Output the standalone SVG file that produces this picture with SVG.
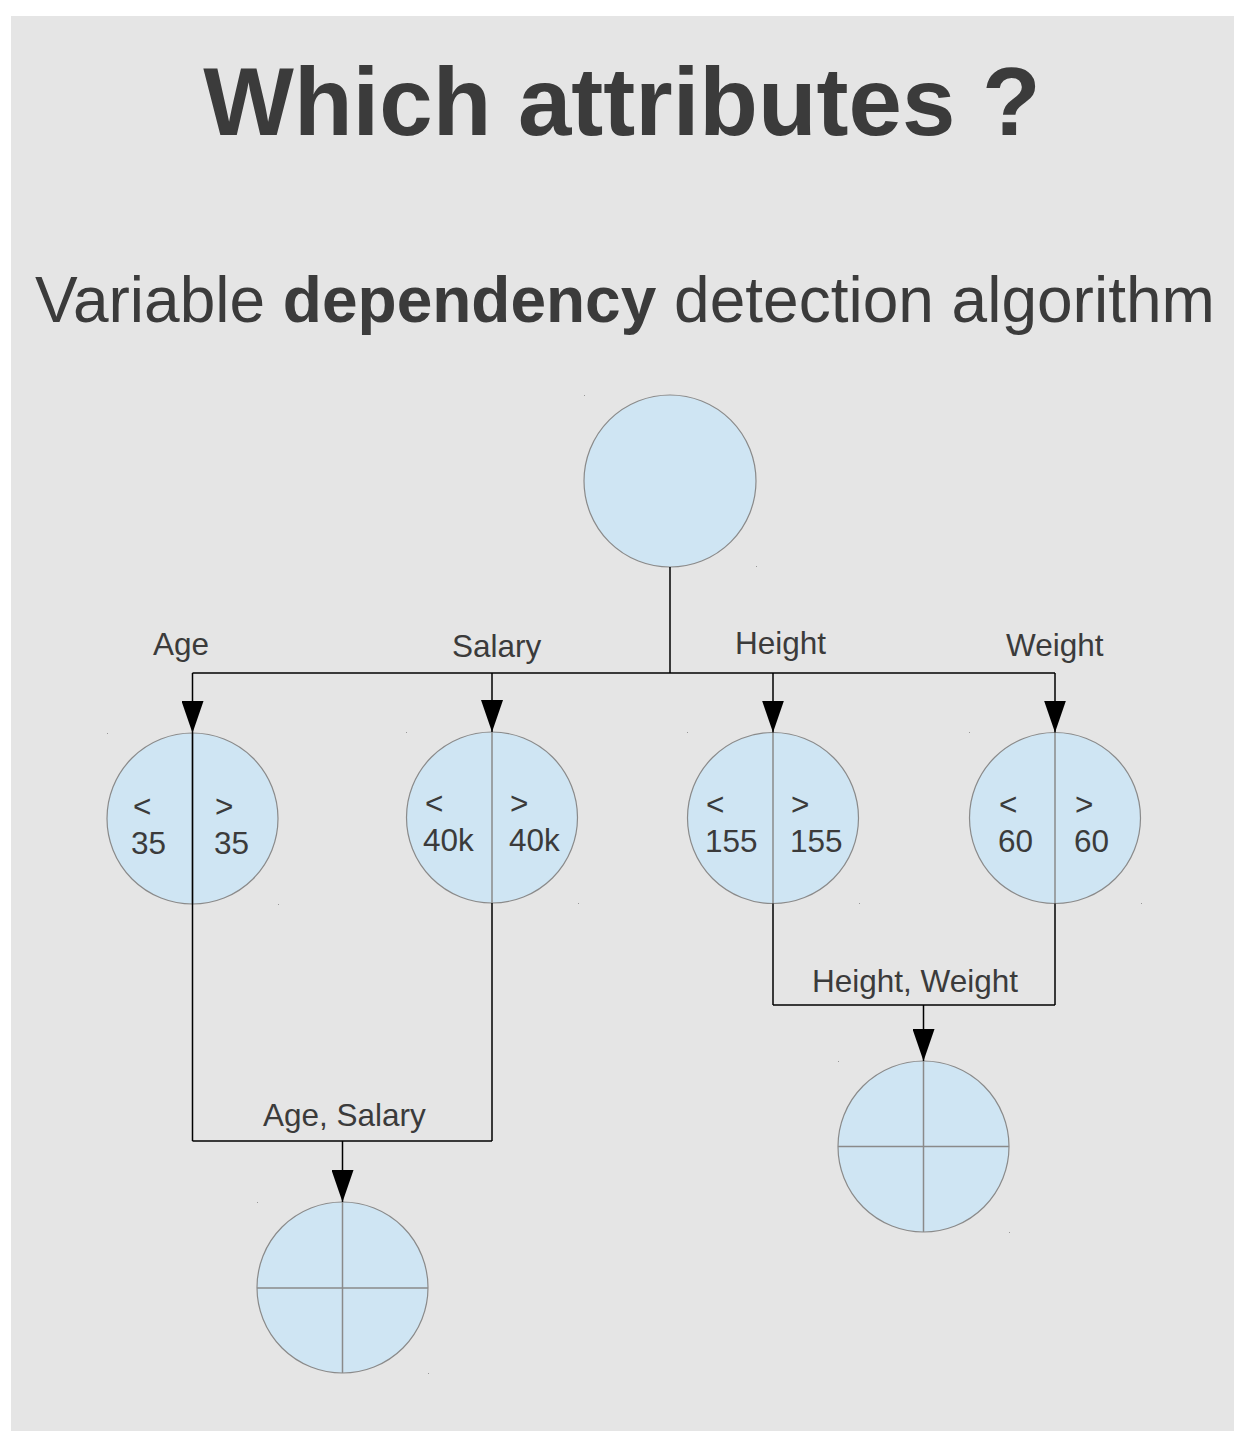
<svg xmlns="http://www.w3.org/2000/svg" width="1234" height="1432" viewBox="0 0 1234 1432">
<style>
.bg{fill:#e5e5e5}
.node{fill:#cfe5f3;stroke:#8a8a8a;stroke-width:1.2}
.div{stroke:#8a8a8a;stroke-width:1.5;fill:none}
.conn{stroke:#000;stroke-width:1.5;fill:none}
.t{font-family:"Liberation Sans",Arial,sans-serif;fill:#3b3b3b}
.lbl{font-size:31.5px}
.num{font-size:31.5px}
.dot{fill:#999}
</style>
<defs>
<marker id="arrow" markerWidth="32" markerHeight="22" refX="32" refY="11" orient="auto" markerUnits="userSpaceOnUse" viewBox="0 0 32 22">
<path d="M0,0 L32,11 L0,22 Z" fill="#000"/>
</marker>
</defs>
<rect class="bg" x="11" y="16" width="1223" height="1415"/>
<text class="t" x="622" y="135" font-size="96" font-weight="bold" text-anchor="middle">Which attributes ?</text>
<text class="t" x="35" y="322" font-size="64">Variable <tspan font-weight="bold">dependency</tspan> detection algorithm</text>

<g id="root">
<circle class="node" cx="670" cy="481" r="86"/>
</g>
<g id="age">
<circle class="node" cx="192.5" cy="818.5" r="85.5"/>
<line class="div" x1="192.5" y1="733" x2="192.5" y2="904"/>
<text class="t num" x="133" y="817">&lt;</text>
<text class="t num" x="131" y="854">35</text>
<text class="t num" x="215" y="817">&gt;</text>
<text class="t num" x="214" y="854">35</text>
</g>
<g id="salary">
<circle class="node" cx="492" cy="817.5" r="85.5"/>
<line class="div" x1="492" y1="732" x2="492" y2="903"/>
<text class="t num" x="425" y="814">&lt;</text>
<text class="t num" x="423" y="851">40k</text>
<text class="t num" x="510" y="814">&gt;</text>
<text class="t num" x="509" y="851">40k</text>
</g>
<g id="height">
<circle class="node" cx="773" cy="818" r="85.5"/>
<line class="div" x1="773" y1="732.5" x2="773" y2="903.5"/>
<text class="t num" x="706" y="815">&lt;</text>
<text class="t num" x="705" y="852">155</text>
<text class="t num" x="791" y="815">&gt;</text>
<text class="t num" x="790" y="852">155</text>
</g>
<g id="weight">
<circle class="node" cx="1055" cy="818" r="85.5"/>
<line class="div" x1="1055" y1="732.5" x2="1055" y2="903.5"/>
<text class="t num" x="999" y="815">&lt;</text>
<text class="t num" x="998" y="852">60</text>
<text class="t num" x="1075" y="815">&gt;</text>
<text class="t num" x="1074" y="852">60</text>
</g>
<g id="age-salary">
<circle class="node" cx="342.5" cy="1287.5" r="85.5"/>
<line class="div" x1="342.5" y1="1202" x2="342.5" y2="1373"/>
<line class="div" x1="257" y1="1288" x2="428" y2="1288"/>
</g>
<g id="height-weight">
<circle class="node" cx="923.5" cy="1146.5" r="85.5"/>
<line class="div" x1="923.5" y1="1061" x2="923.5" y2="1232"/>
<line class="div" x1="838" y1="1146.5" x2="1009" y2="1146.5"/>
</g>

<g id="dots">
<rect class="dot" x="584" y="395" width="1" height="1"/><rect class="dot" x="756" y="566" width="1" height="1"/>
<rect class="dot" x="107" y="733" width="1" height="1"/><rect class="dot" x="278" y="904" width="1" height="1"/>
<rect class="dot" x="406" y="732" width="1" height="1"/><rect class="dot" x="578" y="903" width="1" height="1"/>
<rect class="dot" x="687" y="732" width="1" height="1"/><rect class="dot" x="859" y="903" width="1" height="1"/>
<rect class="dot" x="969" y="732" width="1" height="1"/><rect class="dot" x="1141" y="903" width="1" height="1"/>
<rect class="dot" x="257" y="1202" width="1" height="1"/><rect class="dot" x="428" y="1373" width="1" height="1"/>
<rect class="dot" x="838" y="1061" width="1" height="1"/><rect class="dot" x="1009" y="1232" width="1" height="1"/>
</g>

<g id="connectors">
<line class="conn" x1="670" y1="567" x2="670" y2="673"/>
<line class="conn" x1="192.5" y1="673" x2="1055" y2="673"/>
<line class="conn" x1="192.5" y1="673" x2="192.5" y2="733" marker-end="url(#arrow)"/>
<line class="conn" x1="492" y1="673" x2="492" y2="732" marker-end="url(#arrow)"/>
<line class="conn" x1="773" y1="673" x2="773" y2="732.5" marker-end="url(#arrow)"/>
<line class="conn" x1="1055" y1="673" x2="1055" y2="732.5" marker-end="url(#arrow)"/>
<line class="conn" x1="192.5" y1="733" x2="192.5" y2="1141"/>
<line class="conn" x1="492" y1="903" x2="492" y2="1141"/>
<line class="conn" x1="192.5" y1="1141" x2="492" y2="1141"/>
<line class="conn" x1="342.5" y1="1141" x2="342.5" y2="1202" marker-end="url(#arrow)"/>
<line class="conn" x1="773" y1="903.5" x2="773" y2="1005"/>
<line class="conn" x1="1055" y1="903.5" x2="1055" y2="1005"/>
<line class="conn" x1="773" y1="1005" x2="1055" y2="1005"/>
<line class="conn" x1="923.5" y1="1005" x2="923.5" y2="1061" marker-end="url(#arrow)"/>
<text class="t lbl" x="153" y="655">Age</text>
<text class="t lbl" x="452" y="657">Salary</text>
<text class="t lbl" x="735" y="654">Height</text>
<text class="t lbl" x="1006" y="656">Weight</text>
<text class="t lbl" x="812" y="992">Height, Weight</text>
<text class="t lbl" x="263" y="1126">Age, Salary</text>
</g>
</svg>
